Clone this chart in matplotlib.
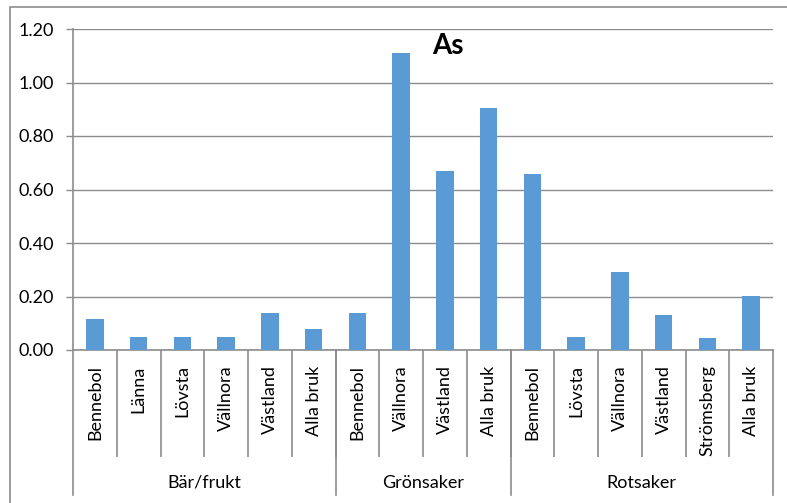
import matplotlib
matplotlib.use("Agg")
import matplotlib.pyplot as plt
from matplotlib.patches import Rectangle
from matplotlib.transforms import blended_transform_factory

plt.rcParams['font.family'] = ['Lato', 'DejaVu Sans']

groups = ["Bär/frukt", "Grönsaker", "Rotsaker"]
sites = [
    ["Bennebol", "Länna", "Lövsta", "Vällnora", "Västland", "Alla bruk"],
    ["Bennebol", "Vällnora", "Västland", "Alla bruk"],
    ["Bennebol", "Lövsta", "Vällnora", "Västland", "Strömsberg", "Alla bruk"],
]
values = [
    [0.115, 0.05, 0.05, 0.05, 0.137, 0.077],
    [0.137, 1.109, 0.669, 0.903],
    [0.658, 0.05, 0.29, 0.131, 0.045, 0.203],
]
yticks = [0.0, 0.2, 0.4, 0.6, 0.8, 1.0, 1.2]

labels = [s for g in sites for s in g]
vals = [v for g in values for v in g]
x = list(range(len(labels)))

W, H = 787, 503
fig = plt.figure(figsize=(W / 100, H / 100), dpi=100)
ax = fig.add_axes([73 / W, 1 - 350 / H, 700 / W, 321 / H])

grey = "#8c8c8c"
ax.bar(x, vals, width=0.4, color="#5b9bd5", zorder=3)
ax.set_xlim(-0.5, len(labels) - 0.5)
ax.set_ylim(0, 1.2)
ax.set_yticks(yticks)
ax.set_yticklabels([f"{t:.2f}" for t in yticks], fontsize=13)
ax.yaxis.grid(True, color=grey, linewidth=1.0, zorder=0)
ax.set_axisbelow(True)

for side in ("top", "right"):
    ax.spines[side].set_visible(False)
for side in ("left", "bottom"):
    ax.spines[side].set_color(grey)
    ax.spines[side].set_linewidth(1.2)

ax.tick_params(axis="y", length=5, width=1, color=grey, pad=9)

# category labels
ax.set_xticks(x)
ax.set_xticklabels(labels, rotation=90, fontsize=13, va="top")
ax.tick_params(axis="x", which="major", length=0, pad=11)

# separators between categories
ax.set_xticks([i + 0.5 for i in range(len(labels) - 1)], minor=True)
ax.tick_params(axis="x", which="minor", length=77, width=1.2, color=grey)

# group separators and group labels
trans = blended_transform_factory(ax.transData, ax.transAxes)
ax_h_px = 321
start = -0.5
bounds = [start]
for g in sites:
    bounds.append(bounds[-1] + len(g))
for b in bounds:
    ax.plot([b, b], [0, -145 / ax_h_px], transform=trans, color=grey,
            linewidth=1.2, clip_on=False)
for gi, name in enumerate(groups):
    cx = (bounds[gi] + bounds[gi + 1]) / 2
    ax.text(cx, -133 / ax_h_px, name, transform=trans, ha="center",
            va="center", fontsize=13)

fig.text(448 / W, 1 - 46 / H, "As", ha="center", va="center",
         fontsize=20, fontweight="bold")

# chart area border
fig.patches.append(Rectangle((10 / W, -0.1), 1.2, 0.1 + 1 - 7 / H,
                             transform=fig.transFigure, fill=False,
                             edgecolor=grey, linewidth=1.2))

fig.savefig("out.png", dpi=100, facecolor="white")
